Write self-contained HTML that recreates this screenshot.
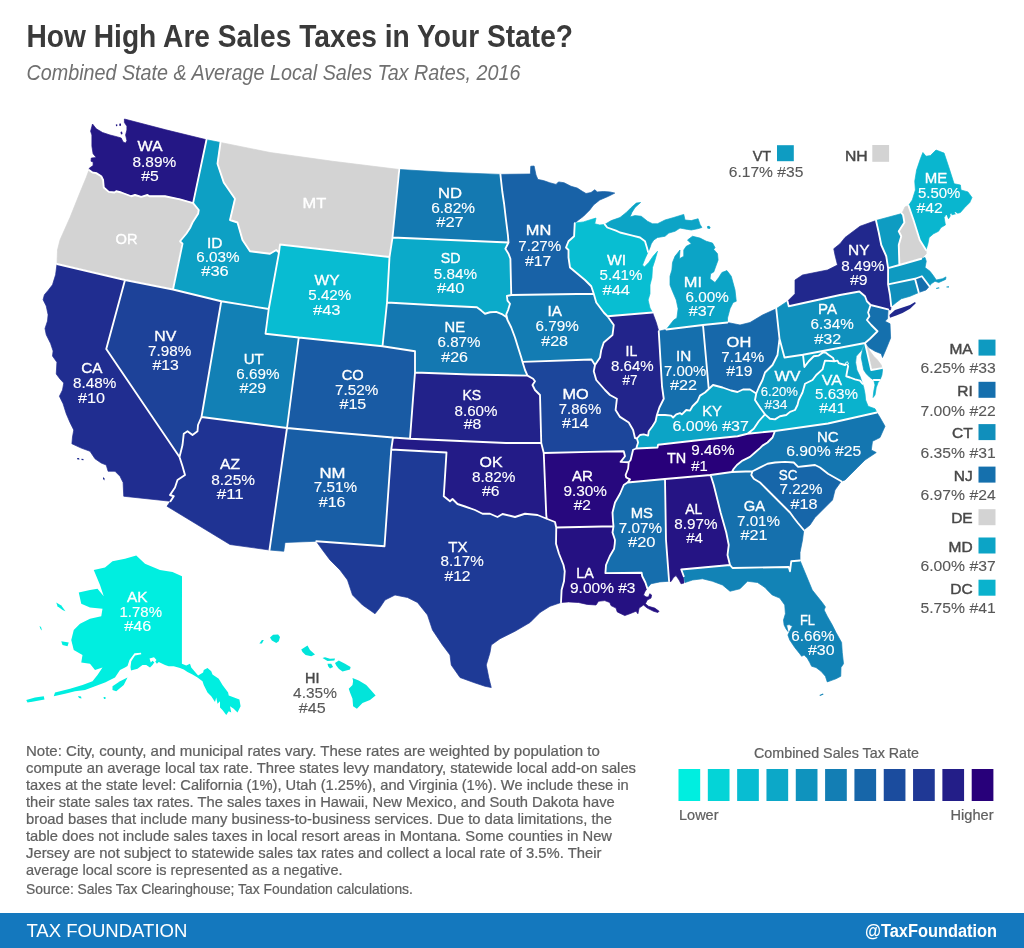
<!DOCTYPE html>
<html lang="en"><head><meta charset="utf-8"><title>How High Are Sales Taxes in Your State?</title>
<style>html,body{margin:0;padding:0;background:#fff;overflow:hidden}svg{display:block;will-change:transform;transform:translateZ(0)}text{font-family:"Liberation Sans", sans-serif}.st{stroke:#fff;stroke-width:1.6;stroke-linejoin:round}.ab{font-size:15.5px;fill:#fff;stroke:#fff;stroke-width:.35}.nm{font-size:15.2px;fill:#fff;stroke:#fff;stroke-width:.12}.dab{font-size:15.5px;fill:#484848;stroke:#484848;stroke-width:.45}.dnm{font-size:15.2px;fill:#585858;stroke:#585858;stroke-width:.1}.note{font-size:14.6px;fill:#606060;stroke:#606060;stroke-width:.22}</style></head><body>
<svg width="1024" height="948" viewBox="0 0 1024 948">
<rect width="1024" height="948" fill="#fff"/>
<g stroke-width="0.7" stroke-linejoin="round">
<path fill="#241785" stroke="#241785" d="M89 170 L89.4 168.1 L93.1 165.6 L93.1 161.9 L91 161.25 L91.25 158.1 L96.25 157.5 L93.1 153.75 L91.9 146.25 L91.9 135 L90.6 131.25 L91.9 126.25 L92.5 124 L96.25 128.75 L102.5 132.5 L110 135 L117.5 136.9 L121.25 138.1 L123.1 141.9 L125.6 143.1 L126.9 140.6 L125.6 135 L126.9 130 L126.9 126.25 L124.4 122.5 L124.4 119 L165.75 129.8 L206.5 139.75 L193.1 203.1 L180 199.4 L165 196.25 L149.4 196.25 L147.5 195 L141.25 196.9 L135 195 L131.25 196.25 L121.25 192.5 L116.25 191.25 L114.4 192.5 L108.75 191.9 L103.75 187.5 L103.1 180 L101.25 176.25 L96.25 173.1 L92.5 172.5 L89 170Z"/>
<path fill="#D3D3D3" stroke="#D3D3D3" d="M89 170 L86.25 177.5 L80 192.5 L70 217.5 L60 240 L57.5 250 L57 264 L125 280 L173 289.5 L182.5 243.75 L180 241.25 L186.25 233.75 L190 228 L192.5 222.5 L198.1 213.75 L198.75 210 L193.1 203.1 L180 199.4 L165 196.25 L149.4 196.25 L147.5 195 L141.25 196.9 L135 195 L131.25 196.25 L121.25 192.5 L116.25 191.25 L114.4 192.5 L108.75 191.9 L103.75 187.5 L103.1 180 L101.25 176.25 L96.25 173.1 L92.5 172.5 L89 170Z"/>
<path fill="#0DA0C4" stroke="#0DA0C4" d="M206.5 139.75 L220.5 142.5 L217.5 163.75 L223.75 182.5 L235 198.75 L230 220 L237.5 222.5 L242.5 240 L250 251.25 L260 252.5 L270 253.75 L276.25 250 L279 252.5 L268.75 309 L221.25 301.25 L173 289.5 L182.5 243.75 L180 241.25 L186.25 233.75 L190 228 L192.5 222.5 L198.1 213.75 L198.75 210 L193.1 203.1 L206.5 139.75Z"/>
<path fill="#D3D3D3" stroke="#D3D3D3" d="M220.5 142.5 L270 152.5 L332.5 161.25 L399.25 169.5 L392.5 237.5 L389.5 257 L280 244.5 L279 252.5 L276.25 250 L270 253.75 L260 252.5 L250 251.25 L242.5 240 L237.5 222.5 L230 220 L235 198.75 L223.75 182.5 L217.5 163.75 L220.5 142.5Z"/>
<path fill="#08BCD2" stroke="#08BCD2" d="M280 244.5 L389.5 257 L387 302.5 L382.5 346.25 L298.75 337.5 L265.5 333.75 L268.75 309 L279 252.5 L280 244.5Z"/>
<path fill="#1479B1" stroke="#1479B1" d="M399.25 169.5 L450 172.5 L500.4 174.4 L501 180 L502.25 191.25 L504.1 203.75 L506 220 L507.9 235 L508.5 242.5 L392.5 237.5 L399.25 169.5Z"/>
<path fill="#0BAAC9" stroke="#0BAAC9" d="M392.5 237.5 L508.5 242.5 L505.4 248.75 L508.5 253.75 L510.4 258.75 L511.25 295 L506.9 296 L507.5 300.6 L510 303.75 L508.1 310 L506.25 314.4 L507.5 320 L506.25 316.9 L502.5 314.4 L496.25 311.9 L490 312.25 L485 313.75 L481.25 310.6 L476.9 307.25 L440 305.5 L387 302.5 L389.5 257 L392.5 237.5Z"/>
<path fill="#1478B1" stroke="#1478B1" d="M387 302.5 L440 305.5 L476.9 307.25 L481.25 310.6 L485 313.75 L490 312.25 L496.25 311.9 L502.5 314.4 L506.25 316.9 L507.5 320 L511.25 327.5 L515 337.5 L518.1 347.5 L521.25 357.5 L522.5 361.9 L525 370 L527.5 375.6 L470 374.5 L415 372.5 L415 351.25 L382.5 346.25 L387 302.5Z"/>
<path fill="#22228A" stroke="#22228A" d="M415 372.5 L470 374.5 L527.5 375.6 L533.1 378.75 L535 381.25 L532.5 385 L535 390 L540 395 L541.25 443 L506 443 L460 441 L410 438.75 L415 372.5Z"/>
<path fill="#195BA4" stroke="#195BA4" d="M298.75 337.5 L382.5 346.25 L415 351.25 L415 372.5 L410 438.75 L393 437.5 L340 433 L287 428 L298.75 337.5Z"/>
<path fill="#1280B5" stroke="#1280B5" d="M221.25 301.25 L268.75 309 L265.5 333.75 L298.75 337.5 L287 428 L201.5 417 L221.25 301.25Z"/>
<path fill="#1D4299" stroke="#1D4299" d="M125 280 L173 289.5 L221.25 301.25 L201.5 417 L198 425 L197.5 431.25 L192.5 435 L187.5 431.25 L183.75 433.75 L182.5 445 L179.5 457 L106.25 349 L125 280Z"/>
<path fill="#202D90" stroke="#202D90" d="M125 280 L57 264 L55.6 274.75 L52.5 284.75 L48.1 290.4 L44.4 294.75 L43.1 299.75 L46.25 306 L48.1 314.75 L47.5 321 L45 328.5 L46.25 334.75 L50.6 343.5 L53.1 351 L52.5 356 L56.9 362.25 L56.25 374 L60 379 L63.75 383 L62.5 390 L59.4 396.25 L63.1 403.75 L66.25 413.75 L70 422.5 L73.75 430 L72.5 437 L71.9 443.75 L81.25 448.1 L90 451.25 L95 458.75 L101.25 463.1 L106.25 465 L108.1 471.25 L115 471.25 L120 476.25 L123.1 482.5 L123.75 496.25 L170.5 501.25 L173.75 496.25 L170 495 L175 487.5 L177.5 480 L185 475 L182.5 466.25 L179.5 457 L106.25 349 L125 280Z"/>
<path fill="#1F3393" stroke="#1F3393" d="M201.5 417 L287 428 L269.5 550 L230 544.5 L167 506.25 L170.5 501.25 L173.75 496.25 L170 495 L175 487.5 L177.5 480 L185 475 L182.5 466.25 L179.5 457 L182.5 445 L183.75 433.75 L187.5 431.25 L192.5 435 L197.5 431.25 L198 425 L201.5 417Z"/>
<path fill="#185EA6" stroke="#185EA6" d="M287 428 L340 433 L393 437.5 L391.25 449.5 L384.5 546.25 L316.25 541.25 L285 542.5 L283.75 551.25 L269.5 550 L287 428Z"/>
<path fill="#231B87" stroke="#231B87" d="M393 437.5 L410 438.75 L460 441 L506 443 L541.25 443 L543.75 453 L546.25 515 L546.75 518.75 L537.5 515 L525 513.75 L515 517 L502.5 514 L497.5 517 L490 513.75 L482.5 513.75 L475 510 L465 506.5 L457.5 504 L452.5 499 L450 501.25 L443.75 496.25 L446.5 452.5 L391.25 449.5 L393 437.5Z"/>
<path fill="#1E3A96" stroke="#1E3A96" d="M391.25 449.5 L446.5 452.5 L443.75 496.25 L450 501.25 L452.5 499 L457.5 504 L465 506.5 L475 510 L482.5 513.75 L490 513.75 L497.5 517 L502.5 514 L515 517 L525 513.75 L537.5 515 L546.75 518.75 L555 522 L556.25 527.5 L556 543.75 L559 553.75 L563.5 565 L564.75 571.25 L564 581.25 L561.6 590 L561 602.5 L550 606.25 L540 612.5 L530 622.5 L515 631.25 L500 638.75 L491.25 645 L490 652.5 L486.25 665 L488.75 677.5 L491.25 687.5 L485 686.25 L473.75 682.5 L460 677.5 L451.25 665 L450 655 L442.5 645 L432.5 630 L427.5 615 L417.5 602.5 L407.5 597.5 L395 595 L385 600 L380 607.5 L375 613.75 L362.5 605 L352.5 595 L347.5 580 L340 570 L330 560 L322.5 550 L316.25 541.25 L384.5 546.25 L391.25 449.5Z"/>
<path fill="#1862A7" stroke="#1862A7" d="M500.4 174.4 L530.4 174 L530.75 166.25 L534.1 166 L536 175 L537.9 179.4 L543.5 180.6 L549.75 182.75 L556 184.4 L558.5 181.9 L564.1 182.75 L571 186.25 L577.25 188.1 L582.25 191.25 L586 193.5 L591 192.5 L594.75 189.75 L597.25 191.9 L603.5 191.5 L609.75 191.9 L614.75 193.1 L608.5 196.25 L599.75 200 L593.5 205 L589.75 210 L583.5 216.25 L578.5 220 L574.75 223.1 L574.1 236.25 L568.5 241.25 L566 247.5 L568.5 250 L568.5 257.5 L570 267.5 L577.5 273.75 L585 280 L591.25 286.25 L593.75 293.75 L511.25 295 L510.4 258.75 L508.5 253.75 L505.4 248.75 L508.5 242.5 L507.9 235 L506 220 L504.1 203.75 L502.25 191.25 L501 180 L500.4 174.4Z"/>
<path fill="#137CB3" stroke="#137CB3" d="M511.25 295 L593.75 293.75 L596.25 302.5 L603.75 312.5 L607.5 316.25 L613.75 325 L612.5 335 L603.75 342.5 L601.25 350 L600 357.5 L595 365 L591.5 359.5 L522.5 361.9 L521.25 357.5 L518.1 347.5 L515 337.5 L511.25 327.5 L507.5 320 L506.25 314.4 L508.1 310 L510 303.75 L507.5 300.6 L506.9 296 L511.25 295Z"/>
<path fill="#1C469B" stroke="#1C469B" d="M522.5 361.9 L591.5 359.5 L595 365 L593.75 371.25 L596.25 380 L605 390 L610 395 L616.9 398.75 L615.6 410 L620 416.9 L628.75 422.5 L633.1 430 L635 438 L636.9 438.5 L638.1 442.5 L636.9 446.25 L636.25 448.5 L633.1 449.75 L630.6 460 L628.75 462.25 L620.6 461.9 L625 456.25 L623.75 451.25 L590 451.9 L543.75 453 L541.25 443 L540 395 L535 390 L532.5 385 L535 381.25 L533.1 378.75 L527.5 375.6 L525 370 L522.5 361.9Z"/>
<path fill="#27087E" stroke="#27087E" d="M543.75 453 L590 451.9 L623.75 451.25 L625 456.25 L620.6 461.9 L628.75 462.25 L628.1 468.75 L625.6 475 L626.25 477.5 L630 479.4 L627.5 482.5 L623.75 485 L620 493.75 L615 502.5 L612.5 512.5 L613 521.25 L613.5 526.25 L556.25 527.5 L555 522 L546.75 518.75 L546.25 515 L543.75 453Z"/>
<path fill="#251182" stroke="#251182" d="M556.25 527.5 L613.5 526.25 L612.5 532.5 L615 540 L614.75 543.75 L614.1 548.75 L609.75 556.25 L606 565 L605.4 573.1 L641.6 572.75 L642.25 576.25 L645.4 582.5 L647.25 588.1 L644.75 591.9 L643.5 595 L646 596.9 L648.5 596.9 L649.75 593.75 L651.6 595 L651 598.1 L647.25 600 L645.4 603.75 L648.5 606.25 L654.75 608.1 L659.1 611.25 L657.9 612.5 L653.5 611.25 L647.25 608.1 L643.5 605 L639.1 608.1 L637.9 613.75 L636 611.25 L629.75 613.75 L624.75 615.6 L617.25 611.9 L616 608.1 L611 605.6 L609.75 602.5 L604.75 600.6 L598.5 601.25 L596 605 L587.25 604.4 L578.5 602.5 L568.5 601.9 L561 602.5 L561.6 590 L564 581.25 L564.75 571.25 L563.5 565 L559 553.75 L556 543.75 L556.25 527.5Z"/>
<path fill="#08BED2" stroke="#08BED2" d="M574.75 223.1 L583.5 221.9 L593.5 218.75 L596 218.1 L594.75 223.75 L599.75 225 L604.75 224.4 L607.25 227.5 L616 230.6 L620 232.5 L632.5 235.6 L640 237.5 L645 241.25 L646.9 247.5 L648.1 251.9 L645 258.75 L642.5 265 L644.4 266.9 L648.75 262.5 L653.1 256.25 L657.5 251.25 L655 260 L652.5 267.5 L651.9 277.5 L650 285 L650 293.75 L648.1 300 L650 308 L652.5 312.5 L607.5 316.25 L603.75 312.5 L596.25 302.5 L593.75 293.75 L591.25 286.25 L585 280 L577.5 273.75 L570 267.5 L568.5 257.5 L568.5 250 L566 247.5 L568.5 241.25 L574.1 236.25 L574.75 223.1Z"/>
<path fill="#22248B" stroke="#22248B" d="M607.5 316.25 L652.5 312.5 L656.25 322.5 L658.75 331.25 L662 386.25 L663.75 398.75 L659.4 407.5 L656.9 415 L655.6 421.25 L652.5 426.25 L648.75 431.25 L648.1 435.6 L643.75 434.4 L640 435 L636.9 438.5 L635 438 L633.1 430 L628.75 422.5 L620 416.9 L615.6 410 L616.9 398.75 L610 395 L605 390 L596.25 380 L593.75 371.25 L595 365 L600 357.5 L601.25 350 L603.75 342.5 L612.5 335 L613.75 325 L607.5 316.25Z"/>
<path fill="#156FAD" stroke="#156FAD" d="M658.75 331.25 L666.25 329.5 L703 325 L708.75 389 L705 392.5 L700 395.6 L697.5 401.25 L692.5 406.25 L690 410.6 L686.25 410 L681.9 414.4 L680 413.1 L676.25 414.4 L673.1 417.5 L671.25 415.6 L665 415 L656.9 415 L659.4 407.5 L663.75 398.75 L662 386.25 L658.75 331.25Z"/>
<path fill="#0CA4C6" stroke="#0CA4C6" d="M666.25 329.5 L673.75 320 L676.9 318 L678.1 308.75 L676.25 300 L672.5 291.25 L670 285 L670 276.25 L671.9 270 L672.5 262.5 L675 256.25 L680 250 L679.4 258.75 L683.75 256.25 L683.75 250 L686.25 246.25 L691.25 243.75 L687.5 240 L692.5 236.25 L700 238.1 L706.25 241.25 L712.5 243.1 L715 247.5 L713.75 249.4 L717.5 253.75 L718.1 260 L716.25 265 L713.75 271.9 L710.6 273.75 L710 278.75 L715 282.5 L718.75 277.5 L721.9 272.5 L726.9 270.6 L731.25 276.25 L735 290 L736.25 301.25 L733.1 302.5 L730 308.75 L727.5 318 L727.5 322.5 L703 325 L666.25 329.5Z"/>
<path fill="#0CA4C6" stroke="#0CA4C6" d="M604.75 224.4 L611.25 220.6 L620 217.5 L626.25 212.5 L631.25 207.5 L636.25 203.1 L640.6 202.5 L635 207.5 L631.9 212.5 L630 216.9 L635 215.6 L641.25 216.25 L647.5 221.25 L652.5 223.75 L657.5 223.75 L665 220 L673.75 217.5 L683.75 214.4 L685 220 L691.25 220.6 L698.1 218.75 L700 224.4 L701.9 227.5 L697.5 228.75 L691.25 230 L687.5 229.4 L680 228.1 L675 231.25 L668.75 233.1 L665 236.25 L657.5 237.5 L653.75 240 L651.25 243.75 L650 247.5 L648.1 251.9 L646.9 247.5 L645 241.25 L640 237.5 L632.5 235.6 L620 232.5 L616 230.6 L607.25 227.5 L604.75 224.4Z"/>
<path fill="#1768AA" stroke="#1768AA" d="M703 325 L727.5 322.5 L740 325 L750 322.5 L762.5 315 L776.25 308.75 L779.5 338.75 L778.75 345 L777.5 355 L772.5 365 L765 372.5 L762.5 380 L758.75 387.5 L756.25 393.5 L750 389.5 L743 389.5 L737.5 392 L731 390.5 L722.5 387.5 L713 385 L708.75 389 L703 325Z"/>
<path fill="#0CA4C6" stroke="#0CA4C6" d="M656.9 415 L665 415 L671.25 415.6 L673.1 417.5 L676.25 414.4 L680 413.1 L681.9 414.4 L686.25 410 L690 410.6 L692.5 406.25 L697.5 401.25 L700 395.6 L705 392.5 L708.75 389 L713 385 L722.5 387.5 L731 390.5 L737.5 392 L743 389.5 L750 389.5 L756.25 393.5 L755 400 L760 407.5 L765 414.4 L758.75 421.25 L753.75 428.75 L747.5 433.75 L737.5 436.25 L700 440 L658.1 444.75 L657.5 447.5 L636.25 448.5 L636.9 446.25 L638.1 442.5 L636.9 438.5 L640 435 L643.75 434.4 L648.1 435.6 L648.75 431.25 L652.5 426.25 L655.6 421.25 L656.9 415Z"/>
<path fill="#28007A" stroke="#28007A" d="M633.1 449.75 L636.25 448.5 L657.5 447.5 L658.1 444.75 L700 440 L737.5 436.25 L747.5 433.75 L775 431 L772.5 437.5 L767.5 442.5 L762.5 445.6 L760 448.1 L755 452.5 L750 456.9 L742.5 460.6 L736.9 465 L733.75 468.75 L731.9 472 L710.6 475 L665 479 L627.5 482.5 L630 479.4 L626.25 477.5 L625.6 475 L628.1 468.75 L628.75 462.25 L630.6 460 L633.1 449.75Z"/>
<path fill="#166EAD" stroke="#166EAD" d="M627.5 482.5 L665 479 L666 540 L669.1 581.25 L659.75 581.9 L651 583.75 L647.25 588.1 L645.4 582.5 L642.25 576.25 L641.6 572.75 L605.4 573.1 L606 565 L609.75 556.25 L614.1 548.75 L614.75 543.75 L615 540 L612.5 532.5 L613.5 526.25 L613 521.25 L612.5 512.5 L615 502.5 L620 493.75 L623.75 485 L627.5 482.5Z"/>
<path fill="#251484" stroke="#251484" d="M665 479 L710.6 475 L713.75 485 L717.5 500 L720.6 512.5 L726.25 532.5 L728.75 545 L727.5 555 L730 565 L681.25 569.5 L683.75 576.25 L684 583 L681 583.75 L679.1 580 L676 575.6 L673.5 577.5 L671 581.5 L669.1 581.25 L666 540 L665 479Z"/>
<path fill="#1570AD" stroke="#1570AD" d="M710.6 475 L731.9 472 L752.5 471.25 L751.25 475 L753.75 478.75 L760 482.5 L765 487.5 L770 492.5 L775 497.5 L780 502.5 L785 507.5 L790 512.5 L794 518 L797.5 522.5 L803.75 530 L802.5 540 L800 552.5 L800 560.5 L791.25 561.25 L790 571.25 L788.75 567 L732.5 568 L730 565 L727.5 555 L728.75 545 L726.25 532.5 L720.6 512.5 L717.5 500 L713.75 485 L710.6 475Z"/>
<path fill="#1283B6" stroke="#1283B6" d="M730 565 L732.5 568 L788.75 567 L790 571.25 L791.25 561.25 L800 560.5 L805 572.5 L812.25 590 L817.25 596.25 L822.25 602.5 L825.4 606.9 L824.1 610 L827.25 616.25 L832.25 625 L836 632.5 L841.6 642.5 L842.25 652.5 L843.5 663.75 L841 667.5 L840.75 676.25 L836 678.75 L831 680.6 L827.25 681.9 L825.4 676.25 L821 671.25 L816 667.5 L811.6 666.25 L809.75 662.5 L807.25 658.1 L804.1 655 L801.6 656.25 L799.75 653.75 L794.75 647.5 L789.75 640 L787.9 635 L789.8 631 L792.4 626.25 L789.1 624.6 L786.6 625.2 L788 631.5 L786.1 629 L784.1 625 L783.5 620 L785.4 613.75 L784.75 605 L779.75 598.1 L772.25 595 L767.25 590 L765 587.5 L757.5 582.5 L747.5 581.25 L740 588.75 L730 591.25 L722.5 585 L712.5 581.25 L702.5 578.75 L692.5 580 L685 582.5 L683.75 576.25 L681.25 569.5 L730 565Z"/>
<path fill="#1766A9" stroke="#1766A9" d="M752.5 471.25 L758.75 468.1 L767.5 463.75 L775 462.5 L785 461.9 L793.75 462.5 L798.1 466.9 L803.75 466.25 L815 465 L820 467.5 L828 473.75 L841.25 481.25 L835 490 L832.5 500 L822.5 510 L815 517.5 L810 525 L803.75 530 L797.5 522.5 L794 518 L790 512.5 L785 507.5 L780 502.5 L775 497.5 L770 492.5 L765 487.5 L760 482.5 L753.75 478.75 L751.25 475 L752.5 471.25Z"/>
<path fill="#1476B0" stroke="#1476B0" d="M775 431 L828 423.5 L876.9 412.5 L880 417.5 L885 426.25 L880 437.5 L872.5 441.25 L871.25 450 L876.25 452.5 L865 460 L857.5 467.5 L850 475 L845 480 L841.25 481.25 L828 473.75 L820 467.5 L815 465 L803.75 466.25 L798.1 466.9 L793.75 462.5 L785 461.9 L775 462.5 L767.5 463.75 L758.75 468.1 L752.5 471.25 L731.9 472 L733.75 468.75 L736.9 465 L742.5 460.6 L750 456.9 L755 452.5 L760 448.1 L762.5 445.6 L767.5 442.5 L772.5 437.5 L775 431Z"/>
<path fill="#0AB2CD" stroke="#0AB2CD" d="M834.4 361.25 L837.5 360.6 L838.75 363.1 L845 365 L846.9 363.1 L848.1 366.25 L846.9 372.5 L846.25 376.25 L850 377.5 L855 379.4 L860 380.6 L862.5 383.75 L863.75 387.5 L865 393.75 L865.6 400 L868.1 406.25 L875 408.75 L876.9 412.5 L828 423.5 L775 431 L747.5 433.75 L753.75 428.75 L758.75 421.25 L765 414.4 L770 418.75 L775 419.4 L780 416.25 L786.25 415 L790 411.9 L795 410 L797.5 405 L798.75 400 L802.5 392.5 L805 383.75 L812.5 380 L816.25 375 L822.5 369.4 L825 360.6 L834.4 361.25Z"/>
<path fill="#0AB2CD" stroke="#0AB2CD" d="M873.75 380 L875 385 L873.75 391.25 L873.1 397.5 L875 395 L876.25 387.5 L878.1 382.5 L880 380 L873.75 380Z"/>
<path fill="#0E9CC2" stroke="#0E9CC2" d="M779.5 338.75 L784.5 357.5 L803 354.75 L804.4 366.9 L808.75 361.25 L813.75 356.25 L818.75 355.6 L823.1 352.5 L825.6 352.5 L828.75 355 L833.1 358.1 L834.4 361.25 L825 360.6 L822.5 369.4 L816.25 375 L812.5 380 L805 383.75 L802.5 392.5 L798.75 400 L797.5 405 L795 410 L790 411.9 L786.25 415 L780 416.25 L775 419.4 L770 418.75 L765 414.4 L760 407.5 L755 400 L756.25 393.5 L758.75 387.5 L762.5 380 L765 372.5 L772.5 365 L777.5 355 L778.75 345 L779.5 338.75Z"/>
<path fill="#1090BD" stroke="#1090BD" d="M776.25 308.75 L787.5 301.25 L788.75 306.25 L840 295 L859.4 291.5 L865 296.25 L866.9 301.25 L870.6 305 L868.1 312.5 L869.4 316.25 L866.9 320 L871.25 325 L877.5 331.25 L870 338.75 L865 343 L803 354.75 L784.5 357.5 L779.5 338.75 L776.25 308.75Z"/>
<path fill="#21288D" stroke="#21288D" d="M787.5 301.25 L795 293.75 L795 280 L802.5 275 L815 272.5 L827.5 270 L837.5 265 L835 255 L833.75 248.75 L840 243.75 L845 237.5 L860 226.25 L876 220.5 L878.75 232.5 L881.25 245 L886.25 256.25 L888.1 268.1 L888.1 284.4 L890 295 L891.25 306.5 L890.5 310 L888.1 309.4 L870.6 305 L866.9 301.25 L865 296.25 L859.4 291.5 L840 295 L788.75 306.25 L787.5 301.25Z"/>
<path fill="#1570AD" stroke="#1570AD" d="M870.6 305 L888.1 309.4 L887.5 318.75 L885 321.25 L890 323.75 L890.6 338 L886.25 348.75 L882.5 357.5 L881.25 353.75 L875 351.25 L868.75 347.5 L865 343 L870 338.75 L877.5 331.25 L871.25 325 L866.9 320 L869.4 316.25 L868.1 312.5 L870.6 305Z"/>
<path fill="#D3D3D3" stroke="#D3D3D3" d="M865 343 L871.25 370 L881.9 368.1 L881.25 365 L877.5 360 L873.75 356.25 L870 351.25 L867.5 346.9 L865 343Z"/>
<path fill="#0CA4C6" stroke="#0CA4C6" d="M803 354.75 L865 343 L861.25 350.6 L856.25 356.25 L855.6 362.5 L856.9 370 L860 376.25 L862.5 383.75 L860 380.6 L855 379.4 L850 377.5 L846.25 376.25 L846.9 372.5 L848.1 366.25 L846.9 363.1 L845 365 L838.75 363.1 L837.5 360.6 L834.4 361.25 L833.1 358.1 L828.75 355 L825.6 352.5 L823.1 352.5 L818.75 355.6 L813.75 356.25 L808.75 361.25 L804.4 366.9 L803 354.75Z"/>
<path fill="#0CA4C6" stroke="#0CA4C6" d="M865 343 L862.5 350 L861.25 357.5 L862.5 363.75 L863.75 370 L866.25 373.75 L870 377.5 L873.75 380 L880 380 L881.9 375 L882.5 370 L881.9 368.1 L871.25 370 L865 343Z"/>
<path fill="#0E9CC2" stroke="#0E9CC2" d="M876 220.5 L901.9 213.5 L903.1 215 L904.4 222.5 L898.75 231.25 L901.25 236.25 L898.75 245 L899.4 265 L888.1 268.1 L886.25 256.25 L881.25 245 L878.75 232.5 L876 220.5Z"/>
<path fill="#D3D3D3" stroke="#D3D3D3" d="M901.9 213.5 L905 206.9 L908.5 205.6 L913.5 220 L919.75 240 L926 250 L926.25 253.75 L921.25 258.75 L899.4 265 L898.75 245 L901.25 236.25 L898.75 231.25 L904.4 222.5 L903.1 215 L901.9 213.5Z"/>
<path fill="#09B6CF" stroke="#09B6CF" d="M908.5 205.6 L912.25 200 L915.4 190 L914.75 181.25 L916.6 170 L920.4 158.75 L922.9 152.5 L926 156.25 L930.4 155.6 L936 150 L944.1 153.1 L948.5 166.25 L954.1 183.75 L960.4 185 L961 190 L967.9 191.9 L972 197.5 L969.75 202.5 L964.75 207.5 L960.4 212.5 L956 213.75 L951 215 L948.5 218.75 L946 215 L944.1 217.5 L945.4 225 L941 227.5 L938.5 231.25 L933.5 233.75 L929.1 237.5 L927.9 243.75 L926 250 L919.75 240 L913.5 220 L908.5 205.6Z"/>
<path fill="#0E9AC1" stroke="#0E9AC1" d="M888.1 268.1 L899.4 265 L921.25 258.75 L925 257.5 L926.25 261.25 L925 267.5 L930 271.25 L933.75 276.25 L936.25 280 L942.5 278.75 L946 276.9 L945.6 279.4 L938.75 282.5 L935 281.25 L931.25 283.75 L929.4 286.25 L921.9 276.25 L915 278.75 L888.1 284.4 L888.1 268.1Z"/>
<path fill="#156FAD" stroke="#156FAD" d="M915 278.75 L921.9 276.25 L929.4 286.25 L926 290 L918.75 292.5 L915 278.75Z"/>
<path fill="#108FBC" stroke="#108FBC" d="M888.1 284.4 L915 278.75 L918.75 292.5 L910 296.25 L901.25 298.75 L896.25 302.5 L891.25 306.5 L890 295 L888.1 284.4Z"/>
</g>
<g>
<path fill="#21288D" d="M889.4 315 L895 310 L902.5 307.5 L910 305 L915 301.9 L915.8 303.3 L910 308.75 L902.5 313.1 L896.25 315.6 L890 317.75Z"/>
<path fill="#00EEE0" d="M136.25 555.5 L145 563.75 L160 570 L172.5 572 L182 576.25 L181.9 663.75 L186.25 665.6 L190 663.75 L191.25 667.5 L198.1 675.6 L203.1 672.5 L203.75 670 L207.5 668.1 L211.25 671.25 L212.5 674.4 L218.75 678.75 L222.5 685 L228.1 692.5 L228.75 695.6 L239.4 699.4 L240.6 706.25 L237.5 712.5 L233.75 708.75 L230 706.25 L231.25 712.5 L228.75 711.25 L226.25 715 L222.5 710 L220 707.5 L220 701.25 L217.5 703.75 L216.25 697.5 L215 701.9 L211.25 696.25 L207.5 692.5 L203.75 685 L202.5 681.25 L197.5 677.5 L192.5 674.4 L187.5 671.9 L183.75 669.4 L180 668.1 L173.75 666.25 L168.75 666.25 L165 665 L158.75 661.9 L156.9 663.75 L155 661.25 L152.5 665 L150 667.5 L146.25 665 L142.5 665 L137.5 668.75 L131 670.5 L130.5 667 L131.25 661.25 L135 655.5 L141.25 654.2 L141 652.8 L134.5 653.2 L129.5 660 L127.5 666 L125 667.5 L120 670 L115 677.5 L105 682.5 L95 686.25 L85 690 L75 691.25 L65 693.75 L53.75 696.25 L55 692.5 L70 688.75 L82.5 685 L92.5 681.25 L97.5 675 L102.5 667.5 L95 670 L90 663.75 L81.25 662.5 L82.5 655 L73.75 650 L71.25 640 L73.75 630 L80 623.75 L90 618.75 L101.25 616.25 L102.5 608.75 L90 607.5 L81.25 603.75 L78.75 592.5 L90 590 L97.5 588.75 L103.75 596.25 L100 585 L93.75 570 L105 567.5 L112.5 561.25 L125 558.75Z"/>
<path fill="#00EEE0" d="M112.5 686.25 L120 681.25 L127.5 677.5 L123.75 685 L116.25 691.25 L112.5 690Z"/>
<path fill="#00EEE0" d="M26.25 700 L35 697.5 L43.75 696.25 L44.5 699.5 L35 701.25 L27.5 702.5Z"/>
<path fill="#00EEE0" d="M56.25 602.5 L61.25 605.5 L65.5 611.25 L62.5 610 L57.5 606.25Z"/>
<path fill="#00EEE0" d="M61.25 641.25 L68.75 642.5 L67.5 646.25 L62.5 645Z"/>
<path fill="#00EEE0" d="M39.5 626 L41 627 L42 630.5 L40.5 629Z"/>
<path fill="#00EEE0" d="M78 696 L81 696.5 L81.5 698.5 L79 698Z"/>
<path fill="#00EEE0" d="M103.5 697 L105.5 697 L105.5 699 L104 699Z"/>
<path fill="#02E4DA" d="M259.4 643.5 L261.9 640 L263.75 640 L261.9 643.5Z"/>
<path fill="#02E4DA" d="M270 637.5 L273.1 634.75 L278.1 634.4 L280 636.9 L278.75 641.25 L276.25 643.1 L271.9 640.6Z"/>
<path fill="#02E4DA" d="M301.25 649.4 L307.5 645.6 L310 650 L315 654.4 L311.25 656.25 L305.6 655 L302.5 651.9Z"/>
<path fill="#02E4DA" d="M322.5 658.1 L325 657.25 L330 658.75 L335 658.5 L334.4 660.6 L327.5 661Z"/>
<path fill="#02E4DA" d="M327.5 663.75 L331.25 663.75 L333.1 666.9 L330 668.5 L328.1 666.25Z"/>
<path fill="#02E4DA" d="M335 663.1 L338.75 660.6 L345 663.75 L350.6 666.9 L350 669.4 L342.5 671.5 L338.75 668.75 L336.25 665.6Z"/>
<path fill="#02E4DA" d="M352.5 678.1 L358.75 680.6 L366.25 685 L371.25 690.6 L375.6 695.6 L370 700 L362.5 703.1 L356.9 708.75 L353.1 706.25 L352.5 698.75 L350 692.5 L348.75 688.75 L352.5 685 L353.1 681.25Z"/>
<path fill="#0CA4C6" d="M706.9 226.5 L709 225.8 L710.6 227.5 L709.5 229 L707.5 228.5Z"/>
<path fill="#241785" d="M115.8 124.5 L117.2 124.2 L117.4 126 L116 126.2Z"/>
<path fill="#241785" d="M119.2 123.8 L121 123.5 L121 125.8 L119.5 126Z"/>
<path fill="#241785" d="M120.5 132 L122 131.5 L122.5 134 L121 134.5Z"/>
<path fill="#202D90" d="M77 458 L79 458 L79.5 459.5 L77.5 459.5Z"/>
<path fill="#202D90" d="M81.5 458.8 L83.5 459 L83.5 460.3 L81.5 460Z"/>
<path fill="#202D90" d="M103 477 L104.5 478.5 L104.5 480.5 L103 479Z"/>
<path fill="#1283B6" d="M819.5 695 L823 693.5 L823.5 694.5 L820 696Z"/>
<path fill="#0E9AC1" d="M936 288 L939 287.3 L939.5 288.3 L936.5 289Z"/>
<path fill="#0E9AC1" d="M946.5 286.5 L949 286.2 L949 287.5 L946.5 287.6Z"/>
<path fill="#FFFFFF" d="M149.5 658.5 L154 657.3 L156.5 660 L154.5 662.5 L152.5 660.8 L150.8 662.5Z"/>
<path fill="#FFFFFF" d="M945.6 215.5 L946.8 215 L948.8 222.5 L947.6 223.5Z"/>
<path fill="#FFFFFF" d="M950.2 214 L951.4 213.6 L952.6 218.5 L951.4 219Z"/>
<path fill="#FFFFFF" d="M954.5 212.8 L955.5 212 L958.5 214.5 L957.5 215.3Z"/>
</g>
<path d="M193.1 203.1 L206.5 139.75 M193.1 203.1 L180 199.4 L165 196.25 L149.4 196.25 L147.5 195 L141.25 196.9 L135 195 L131.25 196.25 L121.25 192.5 L116.25 191.25 L114.4 192.5 L108.75 191.9 L103.75 187.5 L103.1 180 L101.25 176.25 L96.25 173.1 L92.5 172.5 L89 170 M193.1 203.1 L198.75 210 L198.1 213.75 L192.5 222.5 L190 228 L186.25 233.75 L180 241.25 L182.5 243.75 L173 289.5 M57 264 L125 280 M125 280 L173 289.5 M125 280 L106.25 349 L179.5 457 M173 289.5 L221.25 301.25 M220.5 142.5 L217.5 163.75 L223.75 182.5 L235 198.75 L230 220 L237.5 222.5 L242.5 240 L250 251.25 L260 252.5 L270 253.75 L276.25 250 L279 252.5 M279 252.5 L268.75 309 M279 252.5 L280 244.5 L389.5 257 M268.75 309 L221.25 301.25 M268.75 309 L265.5 333.75 L298.75 337.5 M221.25 301.25 L201.5 417 M392.5 237.5 L399.25 169.5 M392.5 237.5 L389.5 257 M392.5 237.5 L508.5 242.5 M389.5 257 L387 302.5 M387 302.5 L382.5 346.25 M387 302.5 L440 305.5 L476.9 307.25 L481.25 310.6 L485 313.75 L490 312.25 L496.25 311.9 L502.5 314.4 L506.25 316.9 L507.5 320 M382.5 346.25 L298.75 337.5 M382.5 346.25 L415 351.25 L415 372.5 M298.75 337.5 L287 428 M500.4 174.4 L501 180 L502.25 191.25 L504.1 203.75 L506 220 L507.9 235 L508.5 242.5 M508.5 242.5 L505.4 248.75 L508.5 253.75 L510.4 258.75 L511.25 295 M511.25 295 L506.9 296 L507.5 300.6 L510 303.75 L508.1 310 L506.25 314.4 L507.5 320 M511.25 295 L593.75 293.75 M507.5 320 L511.25 327.5 L515 337.5 L518.1 347.5 L521.25 357.5 L522.5 361.9 M522.5 361.9 L525 370 L527.5 375.6 M522.5 361.9 L591.5 359.5 L595 365 M527.5 375.6 L470 374.5 L415 372.5 M527.5 375.6 L533.1 378.75 L535 381.25 L532.5 385 L535 390 L540 395 L541.25 443 M415 372.5 L410 438.75 M541.25 443 L506 443 L460 441 L410 438.75 M541.25 443 L543.75 453 M410 438.75 L393 437.5 M393 437.5 L340 433 L287 428 M393 437.5 L391.25 449.5 M287 428 L201.5 417 M287 428 L269.5 550 M201.5 417 L198 425 L197.5 431.25 L192.5 435 L187.5 431.25 L183.75 433.75 L182.5 445 L179.5 457 M179.5 457 L182.5 466.25 L185 475 L177.5 480 L175 487.5 L170 495 L173.75 496.25 L170.5 501.25 M391.25 449.5 L384.5 546.25 L316.25 541.25 M391.25 449.5 L446.5 452.5 L443.75 496.25 L450 501.25 L452.5 499 L457.5 504 L465 506.5 L475 510 L482.5 513.75 L490 513.75 L497.5 517 L502.5 514 L515 517 L525 513.75 L537.5 515 L546.75 518.75 M543.75 453 L546.25 515 L546.75 518.75 M543.75 453 L590 451.9 L623.75 451.25 L625 456.25 L620.6 461.9 L628.75 462.25 M546.75 518.75 L555 522 L556.25 527.5 M556.25 527.5 L556 543.75 L559 553.75 L563.5 565 L564.75 571.25 L564 581.25 L561.6 590 L561 602.5 M556.25 527.5 L613.5 526.25 M574.75 223.1 L574.1 236.25 L568.5 241.25 L566 247.5 L568.5 250 L568.5 257.5 L570 267.5 L577.5 273.75 L585 280 L591.25 286.25 L593.75 293.75 M593.75 293.75 L596.25 302.5 L603.75 312.5 L607.5 316.25 M607.5 316.25 L613.75 325 L612.5 335 L603.75 342.5 L601.25 350 L600 357.5 L595 365 M607.5 316.25 L652.5 312.5 M595 365 L593.75 371.25 L596.25 380 L605 390 L610 395 L616.9 398.75 L615.6 410 L620 416.9 L628.75 422.5 L633.1 430 L635 438 L636.9 438.5 M636.9 438.5 L638.1 442.5 L636.9 446.25 L636.25 448.5 M636.9 438.5 L640 435 L643.75 434.4 L648.1 435.6 L648.75 431.25 L652.5 426.25 L655.6 421.25 L656.9 415 M636.25 448.5 L633.1 449.75 L630.6 460 L628.75 462.25 M636.25 448.5 L657.5 447.5 L658.1 444.75 L700 440 L737.5 436.25 L747.5 433.75 M628.75 462.25 L628.1 468.75 L625.6 475 L626.25 477.5 L630 479.4 L627.5 482.5 M627.5 482.5 L623.75 485 L620 493.75 L615 502.5 L612.5 512.5 L613 521.25 L613.5 526.25 M627.5 482.5 L665 479 M613.5 526.25 L612.5 532.5 L615 540 L614.75 543.75 L614.1 548.75 L609.75 556.25 L606 565 L605.4 573.1 L641.6 572.75 L642.25 576.25 L645.4 582.5 L647.25 588.1 M604.75 224.4 L607.25 227.5 L616 230.6 L620 232.5 L632.5 235.6 L640 237.5 L645 241.25 L646.9 247.5 L648.1 251.9 M658.75 331.25 L662 386.25 L663.75 398.75 L659.4 407.5 L656.9 415 M656.9 415 L665 415 L671.25 415.6 L673.1 417.5 L676.25 414.4 L680 413.1 L681.9 414.4 L686.25 410 L690 410.6 L692.5 406.25 L697.5 401.25 L700 395.6 L705 392.5 L708.75 389 M666.25 329.5 L703 325 M703 325 L708.75 389 M703 325 L727.5 322.5 M708.75 389 L713 385 L722.5 387.5 L731 390.5 L737.5 392 L743 389.5 L750 389.5 L756.25 393.5 M776.25 308.75 L779.5 338.75 M779.5 338.75 L778.75 345 L777.5 355 L772.5 365 L765 372.5 L762.5 380 L758.75 387.5 L756.25 393.5 M779.5 338.75 L784.5 357.5 L803 354.75 M756.25 393.5 L755 400 L760 407.5 L765 414.4 M765 414.4 L758.75 421.25 L753.75 428.75 L747.5 433.75 M765 414.4 L770 418.75 L775 419.4 L780 416.25 L786.25 415 L790 411.9 L795 410 L797.5 405 L798.75 400 L802.5 392.5 L805 383.75 L812.5 380 L816.25 375 L822.5 369.4 L825 360.6 L834.4 361.25 M747.5 433.75 L775 431 M775 431 L772.5 437.5 L767.5 442.5 L762.5 445.6 L760 448.1 L755 452.5 L750 456.9 L742.5 460.6 L736.9 465 L733.75 468.75 L731.9 472 M775 431 L828 423.5 L876.9 412.5 M731.9 472 L710.6 475 M731.9 472 L752.5 471.25 M710.6 475 L665 479 M710.6 475 L713.75 485 L717.5 500 L720.6 512.5 L726.25 532.5 L728.75 545 L727.5 555 L730 565 M665 479 L666 540 L669.1 581.25 M730 565 L681.25 569.5 L683.75 576.25 M730 565 L732.5 568 L788.75 567 L790 571.25 L791.25 561.25 L800 560.5 M752.5 471.25 L751.25 475 L753.75 478.75 L760 482.5 L765 487.5 L770 492.5 L775 497.5 L780 502.5 L785 507.5 L790 512.5 L794 518 L797.5 522.5 L803.75 530 M752.5 471.25 L758.75 468.1 L767.5 463.75 L775 462.5 L785 461.9 L793.75 462.5 L798.1 466.9 L803.75 466.25 L815 465 L820 467.5 L828 473.75 L841.25 481.25 M834.4 361.25 L837.5 360.6 L838.75 363.1 L845 365 L846.9 363.1 L848.1 366.25 L846.9 372.5 L846.25 376.25 L850 377.5 L855 379.4 L860 380.6 L862.5 383.75 M834.4 361.25 L833.1 358.1 L828.75 355 L825.6 352.5 L823.1 352.5 L818.75 355.6 L813.75 356.25 L808.75 361.25 L804.4 366.9 L803 354.75 M873.75 380 L880 380 M803 354.75 L865 343 M787.5 301.25 L788.75 306.25 L840 295 L859.4 291.5 L865 296.25 L866.9 301.25 L870.6 305 M870.6 305 L868.1 312.5 L869.4 316.25 L866.9 320 L871.25 325 L877.5 331.25 L870 338.75 L865 343 M870.6 305 L888.1 309.4 M865 343 L871.25 370 L881.9 368.1 M876 220.5 L878.75 232.5 L881.25 245 L886.25 256.25 L888.1 268.1 M888.1 268.1 L888.1 284.4 M888.1 268.1 L899.4 265 M888.1 284.4 L890 295 L891.25 306.5 M888.1 284.4 L915 278.75 M901.9 213.5 L903.1 215 L904.4 222.5 L898.75 231.25 L901.25 236.25 L898.75 245 L899.4 265 M899.4 265 L921.25 258.75 M908.5 205.6 L913.5 220 L919.75 240 L926 250 M929.4 286.25 L921.9 276.25 L915 278.75 M915 278.75 L918.75 292.5" fill="none" stroke="#fff" stroke-width="1.85" stroke-linejoin="round" stroke-linecap="round"/>
<path fill="#0AB2CD" stroke="#fff" stroke-width="1" d="M846.9 361.6 L848.6 363.1 L847.2 364.9 L845.4 363.3Z"/>
<g>
<text class="ab" x="137.5" y="151.25" textLength="25" lengthAdjust="spacingAndGlyphs">WA</text>
<text class="nm" x="132.5" y="167" textLength="43.75" lengthAdjust="spacingAndGlyphs">8.89%</text>
<text class="nm" x="141.25" y="181.25" textLength="17.5" lengthAdjust="spacingAndGlyphs">#5</text>
<text class="ab" x="115.5" y="243.75" textLength="22" lengthAdjust="spacingAndGlyphs">OR</text>
<text class="ab" x="207" y="247.5" textLength="15.5" lengthAdjust="spacingAndGlyphs">ID</text>
<text class="nm" x="196.25" y="262" textLength="43.25" lengthAdjust="spacingAndGlyphs">6.03%</text>
<text class="nm" x="201.25" y="276.25" textLength="27.5" lengthAdjust="spacingAndGlyphs">#36</text>
<text class="ab" x="302.5" y="208" textLength="23.75" lengthAdjust="spacingAndGlyphs">MT</text>
<text class="ab" x="438" y="197.5" textLength="24" lengthAdjust="spacingAndGlyphs">ND</text>
<text class="nm" x="431.25" y="213" textLength="43.75" lengthAdjust="spacingAndGlyphs">6.82%</text>
<text class="nm" x="436.25" y="227" textLength="27.5" lengthAdjust="spacingAndGlyphs">#27</text>
<text class="ab" x="440.75" y="263" textLength="19.75" lengthAdjust="spacingAndGlyphs">SD</text>
<text class="nm" x="433.75" y="278.75" textLength="43.25" lengthAdjust="spacingAndGlyphs">5.84%</text>
<text class="nm" x="437" y="293" textLength="27.5" lengthAdjust="spacingAndGlyphs">#40</text>
<text class="ab" x="314.5" y="285" textLength="25" lengthAdjust="spacingAndGlyphs">WY</text>
<text class="nm" x="308.25" y="300" textLength="43" lengthAdjust="spacingAndGlyphs">5.42%</text>
<text class="nm" x="313" y="314.5" textLength="27.5" lengthAdjust="spacingAndGlyphs">#43</text>
<text class="ab" x="154.25" y="340.75" textLength="22" lengthAdjust="spacingAndGlyphs">NV</text>
<text class="nm" x="148" y="355.75" textLength="43.25" lengthAdjust="spacingAndGlyphs">7.98%</text>
<text class="nm" x="152.5" y="370" textLength="26.25" lengthAdjust="spacingAndGlyphs">#13</text>
<text class="ab" x="81.25" y="373" textLength="21.25" lengthAdjust="spacingAndGlyphs">CA</text>
<text class="nm" x="73" y="388" textLength="43.25" lengthAdjust="spacingAndGlyphs">8.48%</text>
<text class="nm" x="78" y="402.5" textLength="27" lengthAdjust="spacingAndGlyphs">#10</text>
<text class="ab" x="243.75" y="363.75" textLength="20" lengthAdjust="spacingAndGlyphs">UT</text>
<text class="nm" x="236.25" y="379.25" textLength="43.25" lengthAdjust="spacingAndGlyphs">6.69%</text>
<text class="nm" x="239.5" y="393.25" textLength="26.75" lengthAdjust="spacingAndGlyphs">#29</text>
<text class="ab" x="341.75" y="379.5" textLength="22" lengthAdjust="spacingAndGlyphs">CO</text>
<text class="nm" x="335" y="394.5" textLength="43.25" lengthAdjust="spacingAndGlyphs">7.52%</text>
<text class="nm" x="339.5" y="409.25" textLength="26.75" lengthAdjust="spacingAndGlyphs">#15</text>
<text class="ab" x="444.5" y="332" textLength="20.5" lengthAdjust="spacingAndGlyphs">NE</text>
<text class="nm" x="437.5" y="347" textLength="43" lengthAdjust="spacingAndGlyphs">6.87%</text>
<text class="nm" x="441.25" y="361.75" textLength="26.75" lengthAdjust="spacingAndGlyphs">#26</text>
<text class="ab" x="462.5" y="400" textLength="18.75" lengthAdjust="spacingAndGlyphs">KS</text>
<text class="nm" x="454.5" y="415.5" textLength="43" lengthAdjust="spacingAndGlyphs">8.60%</text>
<text class="nm" x="463.75" y="429.25" textLength="17.5" lengthAdjust="spacingAndGlyphs">#8</text>
<text class="ab" x="319.5" y="477.5" textLength="26" lengthAdjust="spacingAndGlyphs">NM</text>
<text class="nm" x="313.75" y="492" textLength="43.25" lengthAdjust="spacingAndGlyphs">7.51%</text>
<text class="nm" x="318.75" y="506.75" textLength="26.75" lengthAdjust="spacingAndGlyphs">#16</text>
<text class="ab" x="479.5" y="466.75" textLength="23" lengthAdjust="spacingAndGlyphs">OK</text>
<text class="nm" x="472" y="482" textLength="43.5" lengthAdjust="spacingAndGlyphs">8.82%</text>
<text class="nm" x="482" y="496.25" textLength="17.5" lengthAdjust="spacingAndGlyphs">#6</text>
<text class="ab" x="220" y="469.25" textLength="20" lengthAdjust="spacingAndGlyphs">AZ</text>
<text class="nm" x="211.25" y="484.5" textLength="43.75" lengthAdjust="spacingAndGlyphs">8.25%</text>
<text class="nm" x="216.75" y="499.25" textLength="27" lengthAdjust="spacingAndGlyphs">#11</text>
<text class="ab" x="127" y="602" textLength="20.5" lengthAdjust="spacingAndGlyphs">AK</text>
<text class="nm" x="119.5" y="617" textLength="42.5" lengthAdjust="spacingAndGlyphs">1.78%</text>
<text class="nm" x="124.25" y="631.25" textLength="27" lengthAdjust="spacingAndGlyphs">#46</text>
<text class="ab" x="448.25" y="551.75" textLength="19.25" lengthAdjust="spacingAndGlyphs">TX</text>
<text class="nm" x="440.5" y="566.25" textLength="43.25" lengthAdjust="spacingAndGlyphs">8.17%</text>
<text class="nm" x="444.5" y="581.25" textLength="26" lengthAdjust="spacingAndGlyphs">#12</text>
<text class="ab" x="576.25" y="577.5" textLength="17.5" lengthAdjust="spacingAndGlyphs">LA</text>
<text class="nm" x="570" y="592.5" textLength="65.5" lengthAdjust="spacingAndGlyphs">9.00% #3</text>
<text class="ab" x="630.75" y="517.5" textLength="22.25" lengthAdjust="spacingAndGlyphs">MS</text>
<text class="nm" x="618.75" y="532.5" textLength="43.25" lengthAdjust="spacingAndGlyphs">7.07%</text>
<text class="nm" x="628" y="547" textLength="27.5" lengthAdjust="spacingAndGlyphs">#20</text>
<text class="ab" x="572" y="481.25" textLength="21" lengthAdjust="spacingAndGlyphs">AR</text>
<text class="nm" x="563.5" y="495.75" textLength="43.5" lengthAdjust="spacingAndGlyphs">9.30%</text>
<text class="nm" x="573.75" y="510" textLength="17.25" lengthAdjust="spacingAndGlyphs">#2</text>
<text class="ab" x="562.5" y="398.75" textLength="26.25" lengthAdjust="spacingAndGlyphs">MO</text>
<text class="nm" x="558.75" y="413.75" textLength="42.5" lengthAdjust="spacingAndGlyphs">7.86%</text>
<text class="nm" x="562" y="428.25" textLength="26.75" lengthAdjust="spacingAndGlyphs">#14</text>
<text class="ab" x="625.5" y="355.6" textLength="11.75" lengthAdjust="spacingAndGlyphs">IL</text>
<text class="nm" x="611" y="370.6" textLength="42.75" lengthAdjust="spacingAndGlyphs">8.64%</text>
<text class="nm" x="622.5" y="385" textLength="15" lengthAdjust="spacingAndGlyphs">#7</text>
<text class="ab" x="676" y="360.5" textLength="15.25" lengthAdjust="spacingAndGlyphs">IN</text>
<text class="nm" x="664" y="375.5" textLength="42.25" lengthAdjust="spacingAndGlyphs">7.00%</text>
<text class="nm" x="670" y="390" textLength="27" lengthAdjust="spacingAndGlyphs">#22</text>
<text class="ab" x="702.25" y="416.25" textLength="19.75" lengthAdjust="spacingAndGlyphs">KY</text>
<text class="nm" x="672.5" y="431.25" textLength="76.25" lengthAdjust="spacingAndGlyphs">6.00% #37</text>
<text class="ab" x="667" y="462.5" textLength="19.25" lengthAdjust="spacingAndGlyphs">TN</text>
<text class="nm" x="691.25" y="455.4" textLength="43.25" lengthAdjust="spacingAndGlyphs">9.46%</text>
<text class="nm" x="691.25" y="471" textLength="16.5" lengthAdjust="spacingAndGlyphs">#1</text>
<text class="ab" x="685.25" y="513.75" textLength="17" lengthAdjust="spacingAndGlyphs">AL</text>
<text class="nm" x="674.25" y="528.75" textLength="43.25" lengthAdjust="spacingAndGlyphs">8.97%</text>
<text class="nm" x="686.25" y="543" textLength="16.75" lengthAdjust="spacingAndGlyphs">#4</text>
<text class="ab" x="726.6" y="346.9" textLength="24.65" lengthAdjust="spacingAndGlyphs">OH</text>
<text class="nm" x="721.25" y="361.6" textLength="43" lengthAdjust="spacingAndGlyphs">7.14%</text>
<text class="nm" x="726.25" y="376" textLength="26.25" lengthAdjust="spacingAndGlyphs">#19</text>
<text class="ab" x="525.75" y="235" textLength="25.5" lengthAdjust="spacingAndGlyphs">MN</text>
<text class="nm" x="518.25" y="250.5" textLength="43" lengthAdjust="spacingAndGlyphs">7.27%</text>
<text class="nm" x="525" y="265.5" textLength="26.25" lengthAdjust="spacingAndGlyphs">#17</text>
<text class="ab" x="607" y="265" textLength="19.25" lengthAdjust="spacingAndGlyphs">WI</text>
<text class="nm" x="599.5" y="280" textLength="43" lengthAdjust="spacingAndGlyphs">5.41%</text>
<text class="nm" x="602.5" y="295" textLength="27.5" lengthAdjust="spacingAndGlyphs">#44</text>
<text class="ab" x="547.5" y="316.25" textLength="14.5" lengthAdjust="spacingAndGlyphs">IA</text>
<text class="nm" x="535.5" y="331.25" textLength="43.25" lengthAdjust="spacingAndGlyphs">6.79%</text>
<text class="nm" x="541.25" y="346.25" textLength="26.75" lengthAdjust="spacingAndGlyphs">#28</text>
<text class="ab" x="683.75" y="287" textLength="18.25" lengthAdjust="spacingAndGlyphs">MI</text>
<text class="nm" x="685.5" y="302" textLength="43.25" lengthAdjust="spacingAndGlyphs">6.00%</text>
<text class="nm" x="688.75" y="316.25" textLength="26.75" lengthAdjust="spacingAndGlyphs">#37</text>
<text class="ab" x="848" y="255" textLength="21.5" lengthAdjust="spacingAndGlyphs">NY</text>
<text class="nm" x="841.25" y="270.5" textLength="43.25" lengthAdjust="spacingAndGlyphs">8.49%</text>
<text class="nm" x="850" y="284.5" textLength="17.5" lengthAdjust="spacingAndGlyphs">#9</text>
<text class="ab" x="818" y="313.75" textLength="19" lengthAdjust="spacingAndGlyphs">PA</text>
<text class="nm" x="810.5" y="329.25" textLength="43.25" lengthAdjust="spacingAndGlyphs">6.34%</text>
<text class="nm" x="814.25" y="343.75" textLength="27" lengthAdjust="spacingAndGlyphs">#32</text>
<text class="ab" x="774.5" y="381.25" textLength="26" lengthAdjust="spacingAndGlyphs">WV</text>
<text class="nm" x="760.75" y="395.75" textLength="37.25" lengthAdjust="spacingAndGlyphs" style="font-size:13px">6.20%</text>
<text class="nm" x="764.5" y="409.25" textLength="23" lengthAdjust="spacingAndGlyphs" style="font-size:13px">#34</text>
<text class="ab" x="821.75" y="384.5" textLength="20.25" lengthAdjust="spacingAndGlyphs">VA</text>
<text class="nm" x="815" y="398.75" textLength="43" lengthAdjust="spacingAndGlyphs">5.63%</text>
<text class="nm" x="819.25" y="413.25" textLength="26.25" lengthAdjust="spacingAndGlyphs">#41</text>
<text class="ab" x="817" y="441.75" textLength="21.75" lengthAdjust="spacingAndGlyphs">NC</text>
<text class="nm" x="786.25" y="456.25" textLength="75" lengthAdjust="spacingAndGlyphs">6.90% #25</text>
<text class="ab" x="778.75" y="479.5" textLength="18.75" lengthAdjust="spacingAndGlyphs">SC</text>
<text class="nm" x="779.5" y="493.75" textLength="43" lengthAdjust="spacingAndGlyphs">7.22%</text>
<text class="nm" x="790.5" y="508.75" textLength="27" lengthAdjust="spacingAndGlyphs">#18</text>
<text class="ab" x="743.75" y="511.25" textLength="21.25" lengthAdjust="spacingAndGlyphs">GA</text>
<text class="nm" x="737" y="525.75" textLength="43" lengthAdjust="spacingAndGlyphs">7.01%</text>
<text class="nm" x="740.5" y="540" textLength="27" lengthAdjust="spacingAndGlyphs">#21</text>
<text class="ab" x="800" y="625" textLength="15" lengthAdjust="spacingAndGlyphs">FL</text>
<text class="nm" x="791.25" y="640.5" textLength="43.25" lengthAdjust="spacingAndGlyphs">6.66%</text>
<text class="nm" x="808" y="655" textLength="26.5" lengthAdjust="spacingAndGlyphs">#30</text>
<text class="ab" x="924.75" y="183.1" textLength="22.5" lengthAdjust="spacingAndGlyphs">ME</text>
<text class="nm" x="917.9" y="198.1" textLength="42.5" lengthAdjust="spacingAndGlyphs">5.50%</text>
<text class="nm" x="916.6" y="212.5" textLength="26.3" lengthAdjust="spacingAndGlyphs">#42</text>
<text class="dab" x="305" y="682.5" textLength="14.4" lengthAdjust="spacingAndGlyphs">HI</text>
<text class="dnm" x="293.1" y="697.5" textLength="43.8" lengthAdjust="spacingAndGlyphs">4.35%</text>
<text class="dnm" x="298.75" y="712.5" textLength="26.85" lengthAdjust="spacingAndGlyphs">#45</text>
</g>
<rect x="978.5" y="339.6" width="17" height="16" fill="#0E9AC1"/>
<text class="dab" x="972.7" y="353.7" text-anchor="end">MA</text>
<text class="dnm" x="920.5" y="373.3" textLength="75.2" lengthAdjust="spacingAndGlyphs">6.25% #33</text>
<rect x="978.5" y="381.8" width="17" height="16" fill="#156FAD"/>
<text class="dab" x="972.7" y="395.9" text-anchor="end">RI</text>
<text class="dnm" x="920.5" y="415.5" textLength="75.2" lengthAdjust="spacingAndGlyphs">7.00% #22</text>
<rect x="978.5" y="424.1" width="17" height="16" fill="#108FBC"/>
<text class="dab" x="972.7" y="438.2" text-anchor="end">CT</text>
<text class="dnm" x="920.5" y="457.8" textLength="75.2" lengthAdjust="spacingAndGlyphs">6.35% #31</text>
<rect x="978.5" y="466.6" width="17" height="16" fill="#1570AD"/>
<text class="dab" x="972.7" y="480.7" text-anchor="end">NJ</text>
<text class="dnm" x="920.5" y="500.3" textLength="75.2" lengthAdjust="spacingAndGlyphs">6.97% #24</text>
<rect x="978.5" y="509.2" width="17" height="16" fill="#D3D3D3"/>
<text class="dab" x="972.7" y="523.3" text-anchor="end">DE</text>
<rect x="978.5" y="537.5" width="17" height="16" fill="#0CA4C6"/>
<text class="dab" x="972.7" y="551.6" text-anchor="end">MD</text>
<text class="dnm" x="920.5" y="571.2" textLength="75.2" lengthAdjust="spacingAndGlyphs">6.00% #37</text>
<rect x="978.5" y="579.7" width="17" height="16" fill="#0AB2CD"/>
<text class="dab" x="972.7" y="593.8" text-anchor="end">DC</text>
<text class="dnm" x="920.5" y="613.4" textLength="75.2" lengthAdjust="spacingAndGlyphs">5.75% #41</text>
<rect x="777" y="145.2" width="16.8" height="16" fill="#0E9CC2"/>
<text class="dab" x="752.7" y="160.8" textLength="18.5" lengthAdjust="spacingAndGlyphs">VT</text>
<text class="dnm" x="728.7" y="176.9" textLength="74.7" lengthAdjust="spacingAndGlyphs">6.17% #35</text>
<rect x="872.3" y="145" width="16.8" height="16.8" fill="#D3D3D3"/>
<text class="dab" x="845" y="160.6" textLength="22.75" lengthAdjust="spacingAndGlyphs">NH</text>
<text x="26.5" y="46.7" textLength="546.5" lengthAdjust="spacingAndGlyphs" style="font-size:31px;font-weight:bold;fill:#3a3a3a">How High Are Sales Taxes in Your State?</text>
<text x="26.5" y="80.3" textLength="494" lengthAdjust="spacingAndGlyphs" style="font-size:21.5px;font-style:italic;fill:#707070">Combined State &amp; Average Local Sales Tax Rates, 2016</text>
<text class="note" x="26" y="755.9" textLength="573.8" lengthAdjust="spacingAndGlyphs">Note: City, county, and municipal rates vary. These rates are weighted by population to</text>
<text class="note" x="26" y="773" textLength="610" lengthAdjust="spacingAndGlyphs">compute an average local tax rate. Three states levy mandatory, statewide local add-on sales</text>
<text class="note" x="26" y="790" textLength="602.7" lengthAdjust="spacingAndGlyphs">taxes at the state level: California (1%), Utah (1.25%), and Virginia (1%). We include these in</text>
<text class="note" x="26" y="807" textLength="588.7" lengthAdjust="spacingAndGlyphs">their state sales tax rates. The sales taxes in Hawaii, New Mexico, and South Dakota have</text>
<text class="note" x="26" y="824" textLength="586" lengthAdjust="spacingAndGlyphs">broad bases that include many business-to-business services. Due to data limitations, the</text>
<text class="note" x="26" y="841" textLength="586" lengthAdjust="spacingAndGlyphs">table does not include sales taxes in local resort areas in Montana. Some counties in New</text>
<text class="note" x="26" y="858" textLength="575.5" lengthAdjust="spacingAndGlyphs">Jersey are not subject to statewide sales tax rates and collect a local rate of 3.5%. Their</text>
<text class="note" x="26" y="875" textLength="316.5" lengthAdjust="spacingAndGlyphs">average local score is represented as a negative.</text>
<text class="note" x="26" y="894.3" textLength="386.9" lengthAdjust="spacingAndGlyphs">Source: Sales Tax Clearinghouse; Tax Foundation calculations.</text>
<text class="note" x="754" y="757.7" textLength="165" lengthAdjust="spacingAndGlyphs">Combined Sales Tax Rate</text>
<rect x="678.5" y="769" width="21.7" height="32" fill="#00EEE0"/>
<rect x="707.82" y="769" width="21.7" height="32" fill="#04D4D7"/>
<rect x="737.14" y="769" width="21.7" height="32" fill="#08BDD2"/>
<rect x="766.46" y="769" width="21.7" height="32" fill="#0CA8C8"/>
<rect x="795.78" y="769" width="21.7" height="32" fill="#0F93BE"/>
<rect x="825.1" y="769" width="21.7" height="32" fill="#137EB4"/>
<rect x="854.42" y="769" width="21.7" height="32" fill="#1766A9"/>
<rect x="883.74" y="769" width="21.7" height="32" fill="#1B4C9E"/>
<rect x="913.06" y="769" width="21.7" height="32" fill="#1F3895"/>
<rect x="942.38" y="769" width="21.7" height="32" fill="#231E88"/>
<rect x="971.7" y="769" width="21.7" height="32" fill="#28007A"/>
<text class="note" x="679" y="819.6" textLength="39.5" lengthAdjust="spacingAndGlyphs">Lower</text>
<text class="note" x="950.5" y="819.6" textLength="43" lengthAdjust="spacingAndGlyphs">Higher</text>
<rect x="0" y="913" width="1024" height="35" fill="#1478BE"/>
<text x="26.4" y="936.6" textLength="161" lengthAdjust="spacingAndGlyphs" style="font-size:18px;fill:#fff">TAX FOUNDATION</text>
<text x="865" y="936.8" textLength="132" lengthAdjust="spacingAndGlyphs" style="font-size:18px;font-weight:bold;fill:#fff">@TaxFoundation</text>
</svg></body></html>
